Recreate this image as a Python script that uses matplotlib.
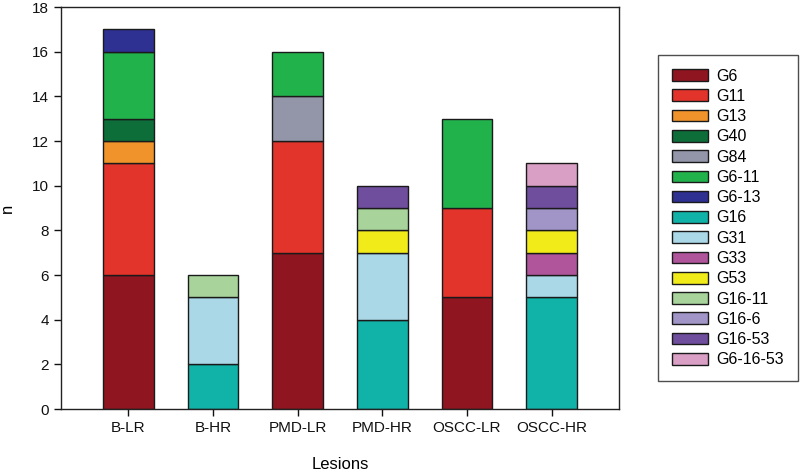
import matplotlib
matplotlib.use("Agg")
import matplotlib.pyplot as plt
import numpy as np

plt.rcParams['font.family'] = ['Liberation Sans', 'DejaVu Sans']

categories = ["B-LR", "B-HR", "PMD-LR", "PMD-HR", "OSCC-LR", "OSCC-HR"]
series = ["G6", "G11", "G13", "G40", "G84", "G6-11", "G6-13", "G16", "G31",
          "G33", "G53", "G16-11", "G16-6", "G16-53", "G6-16-53"]
values = {
    "G6":       [6, 0, 7, 0, 5, 0],
    "G11":      [5, 0, 5, 0, 4, 0],
    "G13":      [1, 0, 0, 0, 0, 0],
    "G40":      [1, 0, 0, 0, 0, 0],
    "G84":      [0, 0, 2, 0, 0, 0],
    "G6-11":    [3, 0, 2, 0, 4, 0],
    "G6-13":    [1, 0, 0, 0, 0, 0],
    "G16":      [0, 2, 0, 4, 0, 5],
    "G31":      [0, 3, 0, 3, 0, 1],
    "G33":      [0, 0, 0, 0, 0, 1],
    "G53":      [0, 0, 0, 1, 0, 1],
    "G16-11":   [0, 1, 0, 1, 0, 0],
    "G16-6":    [0, 0, 0, 0, 0, 1],
    "G16-53":   [0, 0, 0, 1, 0, 1],
    "G6-16-53": [0, 0, 0, 0, 0, 1],
}
colors = {
    "G6": "#8f1520", "G11": "#e3342b", "G13": "#f0932b", "G40": "#0e6e3a",
    "G84": "#9296a8", "G6-11": "#22b24c", "G6-13": "#2e3192", "G16": "#11b3a8",
    "G31": "#aad8e6", "G33": "#b0559b", "G53": "#f2eb1a", "G16-11": "#a8d49c",
    "G16-6": "#a095c6", "G16-53": "#6f4e9e", "G6-16-53": "#d99fc4",
}

fig = plt.figure(figsize=(8, 4.74), dpi=100)
ax = fig.add_axes([0.076, 0.137, 0.698, 0.848])

x = np.arange(len(categories))
bottom = np.zeros(len(categories))
handles = []
for s in series:
    v = np.array(values[s], dtype=float)
    mask = v > 0
    ax.bar(x[mask], v[mask], bottom=bottom[mask], width=0.6, color=colors[s],
           edgecolor="#1a1a1a", linewidth=1.0, zorder=2)
    h = plt.Rectangle((0, 0), 1, 1, facecolor=colors[s], edgecolor="#1a1a1a", linewidth=1.0)
    handles.append(h)
    bottom += v

ax.set_xlim(-0.8, 5.8)
ax.set_ylim(0, 18)
ax.set_yticks(range(0, 19, 2))
ax.set_xticks(x)
ax.set_xticklabels(categories)
ax.tick_params(direction='out', length=5, width=1, labelsize=11, colors='#111111')
for sp in ax.spines.values():
    sp.set_linewidth(1.0)
    sp.set_color('#222222')
ax.set_xlabel("Lesions", fontsize=12, labelpad=16)
ax.set_ylabel("n", fontsize=12, labelpad=12)

leg = fig.legend(handles, series, loc='upper left',
                 bbox_to_anchor=(658/800, 1 - 55/474), fontsize=11.5,
                 frameon=True, fancybox=False, edgecolor='#222222',
                 handlelength=2.25, handleheight=0.75, labelspacing=0.33,
                 borderpad=0.85, handletextpad=0.56, borderaxespad=0)
leg.get_frame().set_linewidth(1.0)

fig.savefig("out.png", dpi=100)
